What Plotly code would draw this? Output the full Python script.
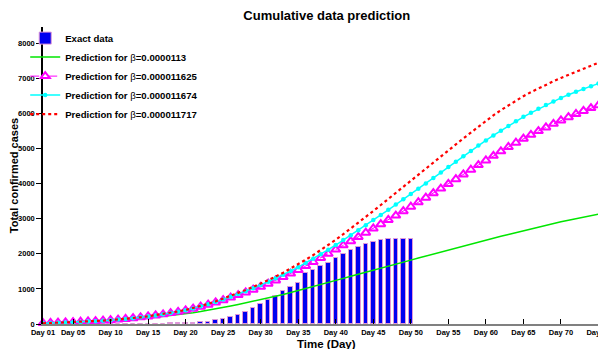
import plotly.graph_objects as go

days_exact = list(range(1, 51))
exact_cases = [1, 1, 1, 1, 2, 2, 2, 3, 3, 4,
               4, 5, 6, 7, 8, 10, 12, 15, 20, 25,
               35, 45, 70, 105, 145, 205, 255, 340, 445, 580,
               675, 805, 935, 1040, 1160, 1445, 1548, 1645, 1750, 1880,
               1985, 2105, 2200, 2280, 2335, 2385, 2412, 2415, 2418, 2420]

days_pred = list(range(1, 77))
pred_b0000113 = [30, 34, 39, 44, 50, 57, 65, 74, 84, 95,
                 108, 122, 137, 153, 170, 191, 214, 238, 263, 290,
                 322, 355, 390, 428, 470, 512, 555, 600, 645, 690,
                 740, 790, 842, 895, 950, 1007, 1065, 1122, 1181, 1240,
                 1300, 1360, 1420, 1480, 1540, 1596, 1652, 1708, 1764, 1820,
                 1878, 1936, 1994, 2052, 2110, 2166, 2222, 2278, 2334, 2390,
                 2444, 2498, 2552, 2606, 2660, 2710, 2760, 2810, 2860, 2910,
                 2955, 3000, 3044, 3087, 3130, 3170]
pred_b000011625 = [25, 32, 39, 47, 55, 64, 74, 85, 97, 110,
                   127, 145, 166, 189, 215, 245, 277, 311, 347, 385,
                   437, 492, 550, 613, 680, 752, 824, 899, 978, 1060,
                   1150, 1242, 1338, 1437, 1540, 1652, 1766, 1882, 2000, 2120,
                   2240, 2360, 2480, 2600, 2720, 2842, 2965, 3090, 3215, 3340,
                   3468, 3597, 3727, 3858, 3990, 4125, 4260, 4394, 4528, 4660,
                   4790, 4918, 5042, 5163, 5280, 5390, 5496, 5600, 5701, 5800,
                   5892, 5982, 6068, 6150, 6230, 6300]
pred_b000011674 = [20, 27, 34, 42, 50, 59, 69, 81, 95, 110,
                   127, 145, 166, 189, 215, 245, 278, 313, 350, 390,
                   445, 503, 565, 630, 700, 775, 852, 933, 1019, 1110,
                   1205, 1303, 1405, 1510, 1620, 1740, 1862, 1987, 2116, 2250,
                   2390, 2530, 2672, 2815, 2960, 3107, 3254, 3402, 3550, 3700,
                   3852, 4005, 4158, 4313, 4470, 4625, 4778, 4930, 5081, 5230,
                   5370, 5508, 5642, 5773, 5900, 6016, 6128, 6235, 6339, 6440,
                   6530, 6616, 6697, 6775, 6850, 6920]
pred_b000011717 = [20, 27, 34, 42, 50, 60, 71, 83, 96, 110,
                   127, 145, 166, 191, 220, 251, 284, 320, 358, 400,
                   455, 512, 572, 644, 720, 800, 883, 968, 1057, 1150,
                   1250, 1353, 1461, 1576, 1700, 1830, 1964, 2103, 2249, 2400,
                   2558, 2718, 2880, 3048, 3220, 3390, 3560, 3730, 3900, 4070,
                   4242, 4416, 4590, 4765, 4940, 5115, 5287, 5456, 5623, 5790,
                   5945, 6092, 6230, 6363, 6490, 6605, 6713, 6815, 6914, 7010,
                   7100, 7190, 7278, 7365, 7450, 7530]

tick_days = [1, 5, 10, 15, 20, 25, 30, 35, 40, 45, 50, 55, 60, 65, 70, 75]
tick_labels = ["Day 01", "Day 05", "Day 10", "Day 15", "Day 20", "Day 25", "Day 30",
               "Day 35", "Day 40", "Day 45", "Day 50", "Day 55", "Day 60", "Day 65",
               "Day 70", "Day 75"]
y_ticks = [0, 1000, 2000, 3000, 4000, 5000, 6000, 7000, 8000]

FONT = "Liberation Sans, Arial, sans-serif"

fig = go.Figure()
fig.add_trace(go.Bar(
    x=days_exact, y=exact_cases, name="<b>Exact data</b>", width=0.6,
    marker=dict(color="#0000f0", line=dict(color="rgb(225,150,215)", width=1)),
))
fig.add_trace(go.Scatter(
    x=days_pred, y=pred_b0000113, mode="lines", name="<b>Prediction for </b>β<b>=0.0000113</b>",
    line=dict(color="#00e600", width=1.5), cliponaxis=False,
))
fig.add_trace(go.Scatter(
    x=days_pred, y=pred_b000011625, mode="lines+markers",
    name="<b>Prediction for </b>β<b>=0.000011625</b>",
    line=dict(color="#ff00ff", width=1, dash="dash"),
    marker=dict(symbol="triangle-up-open", size=8, color="#ff00ff", line=dict(width=2)),
    cliponaxis=False,
))
fig.add_trace(go.Scatter(
    x=days_pred, y=pred_b000011674, mode="lines+markers",
    name="<b>Prediction for </b>β<b>=0.000011674</b>",
    line=dict(color="#00ffff", width=1.5),
    marker=dict(symbol="circle", size=4.5, color="#00ffff"),
    cliponaxis=False,
))
fig.add_trace(go.Scatter(
    x=days_pred, y=pred_b000011717, mode="lines",
    name="<b>Prediction for </b>β<b>=0.000011717</b>",
    line=dict(color="#ff0000", width=2.2, dash="dot"),
    cliponaxis=False,
))

# The page body adds an 8px offset; the layout below is shifted to compensate.
fig.update_layout(
    width=606, height=349,
    margin=dict(l=35, r=8, t=19, b=33, autoexpand=False),
    paper_bgcolor="white", plot_bgcolor="white",
    font=dict(family=FONT, color="black"),
    title=dict(text="<b>Cumulative data prediction</b>", x=0.526, xanchor="center",
               y=0.980, yanchor="middle", font=dict(size=13, family=FONT)),
    showlegend=True,
    legend=dict(x=-0.0316, y=1.0114, xanchor="left", yanchor="top", bgcolor="rgba(0,0,0,0)",
                font=dict(size=9.6, family=FONT), itemwidth=30, tracegroupgap=0),
    bargap=0,
    xaxis=dict(range=[1, 76], tickvals=tick_days, ticktext=tick_labels, automargin=False,
               ticks="inside", ticklen=5, tickcolor="black", showline=True,
               linecolor="#808080", linewidth=1.5, showgrid=False, zeroline=False,
               tickfont=dict(size=7.5, family=FONT, weight="bold")),
    yaxis=dict(range=[0, 8460], tickvals=y_ticks, ticks="outside", ticklen=5, automargin=False,
               tickcolor="black", showline=True, linecolor="black", linewidth=1.5,
               showgrid=False, zeroline=False,
               tickfont=dict(size=7.5, family=FONT, weight="bold"),
               title=dict(text="<b>Total confirmed cases</b>", font=dict(size=11, family=FONT), standoff=0)),
    annotations=[dict(text="<b>Time (Day)</b>", xref="paper", yref="paper", x=0.5044, y=-0.066,
                      xanchor="center", yanchor="middle", showarrow=False,
                      font=dict(size=11.5, family=FONT))],
)

fig.write_html("out.html")
